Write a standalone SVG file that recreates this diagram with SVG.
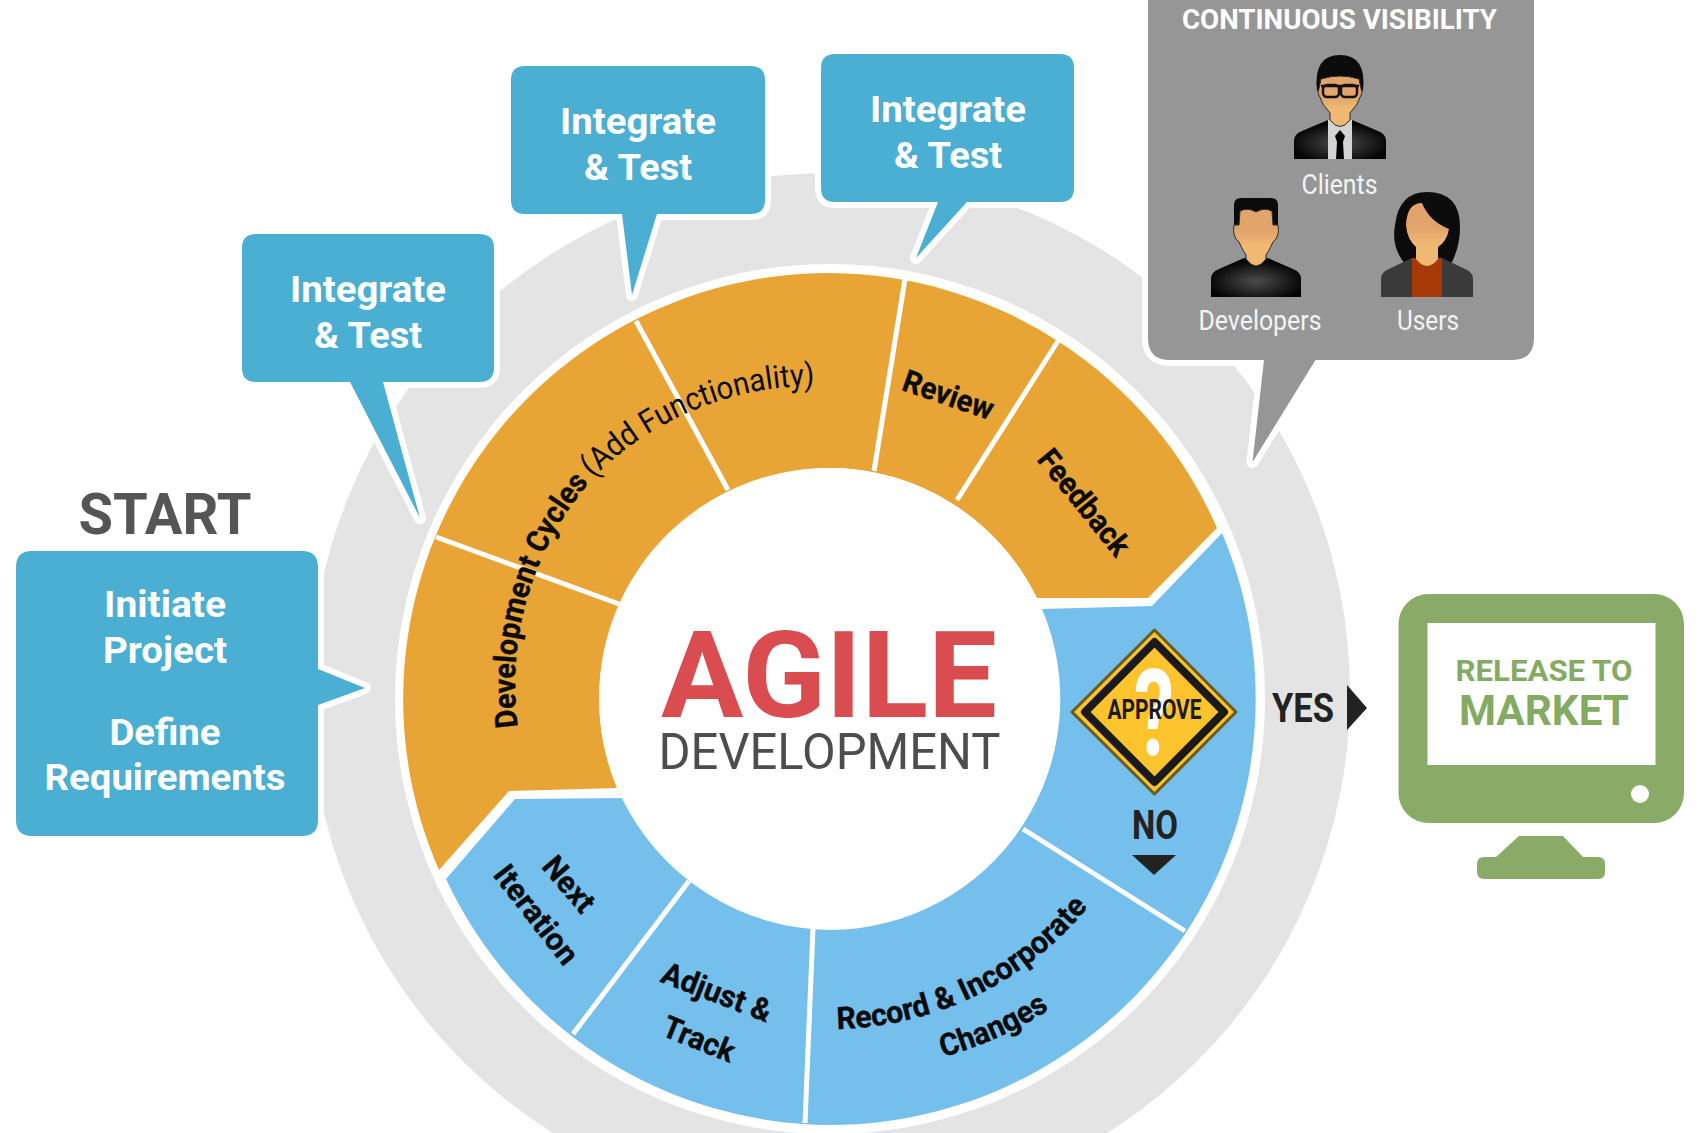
<svg xmlns="http://www.w3.org/2000/svg" width="1698" height="1133" viewBox="0 0 1698 1133">
<style>
text{font-family:Roboto,"Liberation Sans",sans-serif;text-anchor:middle}
.call{fill:#4aafd2;stroke:#fff;stroke-width:12;stroke-linejoin:round;paint-order:stroke}
.ct{fill:#fff;font-weight:700;font-size:37px}
.pl{fill:#f4f4f4;font-size:28px}
.seg{fill:#0a0a0a;font-weight:700;font-size:31px;stroke:#0a0a0a;stroke-width:.35}
.div{stroke:#fff;stroke-width:5;fill:none}
.skin{fill:url(#skin);stroke:#2a2a2a;stroke-width:1}
.hair{fill:#0b0b0b}
</style>
<defs>
<radialGradient id="suit" cx="50%" cy="60%" r="55%"><stop offset="0" stop-color="#4c4c4c"/><stop offset="1" stop-color="#020202"/></radialGradient>
<linearGradient id="skin" x1="0" y1="0" x2="0" y2="1"><stop offset="0.4" stop-color="#e3a46b"/><stop offset="0.65" stop-color="#f0b973"/></linearGradient>
<path id="a1" d="M518 727 A313 313 0 0 1 593 478"/>
<path id="a2" d="M593 478 A313 313 0 0 1 822 386"/>
<path id="a3" d="M837 1029 A331 331 0 0 0 1088 907"/>
<path id="a4" d="M943 1057 A377 377 0 0 0 1050 1009"/>
</defs>
<rect width="1698" height="1133" fill="#fff"/>
<g id="ring">
<circle cx="830" cy="693" r="520" fill="#e4e4e4"/>
<circle cx="830" cy="699" r="435" fill="#fff"/>
</g>
<g id="wheel-orange">
<path fill="#e9a436" d="M439 870 A426 426 0 0 1 830 273 A426 426 0 0 1 1217 528 L1148 598 L1037 598 A231 231 0 0 0 830 468 A231 231 0 0 0 617 788 L509 791 Z"/>
</g>
<g id="wheel-blue">
<path fill="#74bfec" d="M1222 533 A426 426 0 0 1 830 1125 A426 426 0 0 1 446 879 L515 799 L623 798 A231 231 0 0 0 830 930 A231 231 0 0 0 1042 609 L1152 606 Z"/>
</g>
<g id="dividers">
<line class="div" x1="436" y1="537" x2="619" y2="604"/>
<line class="div" x1="636" y1="321" x2="728" y2="490"/>
<line class="div" x1="905" y1="279" x2="874" y2="471"/>
<line class="div" x1="1058" y1="341" x2="957" y2="500"/>
<line class="div" x1="689" y1="881" x2="573" y2="1034"/>
<line class="div" x1="813" y1="928" x2="805" y2="1123"/>
<line class="div" x1="1023" y1="829" x2="1185" y2="931"/>
</g>
<g id="hub">
<circle cx="829" cy="698" r="230" fill="#fff"/>
<text x="829" y="717" font-size="120" font-weight="700" fill="#d94c50" textLength="336" lengthAdjust="spacingAndGlyphs">AGILE</text>
<text x="829.5" y="769" font-size="50" fill="#4d4d4d" textLength="342" lengthAdjust="spacingAndGlyphs">DEVELOPMENT</text>
</g>
<g id="segment-labels">
<text class="seg" style="text-anchor:start"><textPath href="#a1" textLength="262" lengthAdjust="spacingAndGlyphs">Development Cycles</textPath></text>
<text class="seg" style="text-anchor:start;font-weight:400;font-size:32px;stroke:none"><textPath href="#a2" textLength="246" lengthAdjust="spacingAndGlyphs">(Add Functionality)</textPath></text>
<text class="seg" transform="translate(945 405) rotate(19)" textLength="94" lengthAdjust="spacingAndGlyphs">Review</text>
<text class="seg" transform="translate(1076 509) rotate(51)" textLength="127" lengthAdjust="spacingAndGlyphs">Feedback</text>
<text class="seg" transform="translate(561 891) rotate(49.5)" textLength="63" lengthAdjust="spacingAndGlyphs">Next</text>
<text class="seg" transform="translate(528 921) rotate(52)" textLength="117" lengthAdjust="spacingAndGlyphs">Iteration</text>
<text class="seg" transform="translate(713 1002) rotate(21)" textLength="115" lengthAdjust="spacingAndGlyphs">Adjust &amp;</text>
<text class="seg" transform="translate(695 1049) rotate(22)" textLength="75" lengthAdjust="spacingAndGlyphs">Track</text>
<text class="seg" style="text-anchor:start"><textPath href="#a3" textLength="288" lengthAdjust="spacingAndGlyphs">Record &amp; Incorporate</textPath></text>
<text class="seg" style="text-anchor:start"><textPath href="#a4" textLength="117" lengthAdjust="spacingAndGlyphs">Changes</textPath></text>
</g>
<g id="integrate-1">
<path class="call" d="M256 234 H479 Q494 234 494 248 V368 Q494 382 479 382 H383 L420 518 L350 382 H256 Q242 382 242 368 V248 Q242 234 256 234 Z"/>
<text class="ct" x="368" y="302" textLength="156" lengthAdjust="spacingAndGlyphs">Integrate</text>
<text class="ct" x="368" y="348" textLength="108" lengthAdjust="spacingAndGlyphs">&amp; Test</text>
</g>
<g id="integrate-2">
<path class="call" d="M525 66 H751 Q765 66 765 80 V200 Q765 214 751 214 H657 L632 295 L622 214 H525 Q511 214 511 200 V80 Q511 66 525 66 Z"/>
<text class="ct" x="638" y="134" textLength="156" lengthAdjust="spacingAndGlyphs">Integrate</text>
<text class="ct" x="638" y="180" textLength="108" lengthAdjust="spacingAndGlyphs">&amp; Test</text>
</g>
<g id="integrate-3">
<path class="call" d="M835 54 H1060 Q1074 54 1074 68 V188 Q1074 202 1060 202 H967 L916 258 L938 202 H835 Q821 202 821 188 V68 Q821 54 835 54 Z"/>
<text class="ct" x="948" y="122" textLength="156" lengthAdjust="spacingAndGlyphs">Integrate</text>
<text class="ct" x="948" y="168" textLength="108" lengthAdjust="spacingAndGlyphs">&amp; Test</text>
</g>
<g id="start">
<text x="165" y="534" font-size="57" font-weight="700" fill="#555" textLength="173" lengthAdjust="spacingAndGlyphs">START</text>
<path class="call" d="M32 551 H302 Q318 551 318 567 V669 L365 688 L318 705 V820 Q318 836 302 836 H32 Q16 836 16 820 V567 Q16 551 32 551 Z"/>
<text class="ct" x="165" y="617" textLength="122" lengthAdjust="spacingAndGlyphs">Initiate</text>
<text class="ct" x="165" y="663" textLength="124" lengthAdjust="spacingAndGlyphs">Project</text>
<text class="ct" x="165" y="745" textLength="111" lengthAdjust="spacingAndGlyphs">Define</text>
<text class="ct" x="165" y="790" textLength="241" lengthAdjust="spacingAndGlyphs">Requirements</text>
</g>
<g id="continuous-visibility">
<path d="M1148 -20 H1534 V338 Q1534 360 1512 360 H1315.5 L1252.5 462 L1264 360 H1170 Q1148 360 1148 338 Z" fill="#969696" stroke="#fff" stroke-width="12" stroke-linejoin="round" paint-order="stroke"/>
<text x="1339.5" y="29" font-size="28" font-weight="700" fill="#fff" textLength="315" lengthAdjust="spacingAndGlyphs">CONTINUOUS VISIBILITY</text>
<text class="pl" x="1339.5" y="194" textLength="76" lengthAdjust="spacingAndGlyphs">Clients</text>
<text class="pl" x="1260" y="330" textLength="123" lengthAdjust="spacingAndGlyphs">Developers</text>
<text class="pl" x="1428" y="330" textLength="62" lengthAdjust="spacingAndGlyphs">Users</text>
</g>
<g id="person-client" transform="translate(1340 159)">
<path d="M-46 0 V-18 Q-46 -25 -38 -28 L-12 -39 H12 L38 -28 Q46 -25 46 -18 V0 Z" fill="url(#suit)"/>
<path d="M-12 -39 H12 V0 H-12 Z" fill="#d4d4d0"/>
<path d="M-23 -68 Q-27 -104 0 -104 Q27 -104 23 -68 Z" class="hair"/>
<path class="skin" d="M-19 -80 Q0 -86 19 -80 L22 -66 Q18 -54 10 -46 V-39 Q0 -26 -10 -39 V-46 Q-18 -54 -22 -66 Z"/>
<rect x="-17" y="-74" width="16" height="12" rx="4" fill="none" stroke="#111" stroke-width="2.5"/>
<rect x="1" y="-74" width="16" height="12" rx="4" fill="none" stroke="#111" stroke-width="2.5"/>
<path d="M-19 -73 H19" stroke="#111" stroke-width="2.5"/>
<path d="M0 -29 L5 -23 L3 -17 L4 0 H-4 L-3 -17 L-5 -23 Z" fill="#050505"/>
</g>
<g id="person-developer" transform="translate(1256 297)">
<path d="M-45 0 V-18 Q-45 -25 -37 -28 L-12 -39 H12 L37 -28 Q45 -25 45 -18 V0 Z" fill="url(#suit)"/>
<path d="M-22 -72 V-92 Q-22 -99 -15 -99 H15 Q22 -99 22 -92 V-72 Z" class="hair"/>
<path class="skin" d="M-16 -86 Q-8 -90 0 -85 Q8 -90 16 -86 L17 -72 H22 Q24 -60 17 -55 Q13 -46 10 -42 V-38 Q0 -24 -10 -38 V-42 Q-13 -46 -17 -55 Q-24 -60 -22 -72 H-17 Z"/>
</g>
<g id="person-user" transform="translate(1427 297)">
<path d="M-22 -33 Q-36 -50 -32 -72 Q-28 -105 0 -105 Q33 -105 33 -70 Q33 -50 24 -33 Z" class="hair"/>
<path d="M-46 0 V-18 Q-46 -25 -38 -28 L-15 -39 H15 L38 -28 Q46 -25 46 -18 V0 Z" fill="#3a3a3a"/>
<path d="M-15 0 L-15 -39 H15 L15 0 Z" fill="#a63a06"/>
<path class="skin" style="stroke:none" d="M-21 -72 Q-20 -94 -5 -94 Q2 -76 22 -68 Q20 -56 11 -50 V-38 Q0 -24 -11 -38 V-50 Q-20 -58 -21 -72 Z"/>
</g>
<g id="approve">
<path d="M1154.5 630 L1236 712 L1154.5 794 L1072 712 Z" fill="#fcc42c" stroke="#6b5a20" stroke-width="3" stroke-linejoin="round"/>
<path d="M1154.5 642 L1224 712 L1154.5 782 L1085 712 Z" fill="#fcc42c" stroke="#1a1a1a" stroke-width="8" stroke-linejoin="round"/>
<text x="1154" y="755" font-size="120" font-weight="700" fill="#fff" textLength="40" lengthAdjust="spacingAndGlyphs">?</text>
<text x="1154.5" y="719" font-size="27" font-weight="700" fill="#1a1a1a" textLength="94" lengthAdjust="spacingAndGlyphs">APPROVE</text>
</g>
<g id="connectors">
<path d="M1347 685 L1367 708 L1347 730 Z" fill="#222"/>
<path d="M1132 855 H1176 L1154 875 Z" fill="#222"/>
</g>
<g id="decision-labels">
<text x="1303" y="722" font-size="40" font-weight="700" fill="#222" textLength="62" lengthAdjust="spacingAndGlyphs">YES</text>
<text x="1155" y="839" font-size="40" font-weight="700" fill="#222" textLength="46" lengthAdjust="spacingAndGlyphs">NO</text>
</g>
<g id="release-to-market">
<rect x="1398.5" y="594" width="285.5" height="229" rx="30" fill="#8aab68"/>
<rect x="1427.5" y="623" width="228" height="142" fill="#fff"/>
<circle cx="1640" cy="794" r="9" fill="#fff"/>
<path d="M1519 836 H1563 L1583 857 H1598 Q1605 857 1605 864 V872 Q1605 879 1598 879 H1484 Q1477 879 1477 872 V864 Q1477 857 1484 857 H1496 Z" fill="#8aab68"/>
<text x="1544" y="681" font-size="30" font-weight="700" fill="#85ab62" textLength="177" lengthAdjust="spacingAndGlyphs">RELEASE TO</text>
<text x="1544" y="725" font-size="43" font-weight="700" fill="#85ab62" textLength="170" lengthAdjust="spacingAndGlyphs">MARKET</text>
</g>
</svg>
